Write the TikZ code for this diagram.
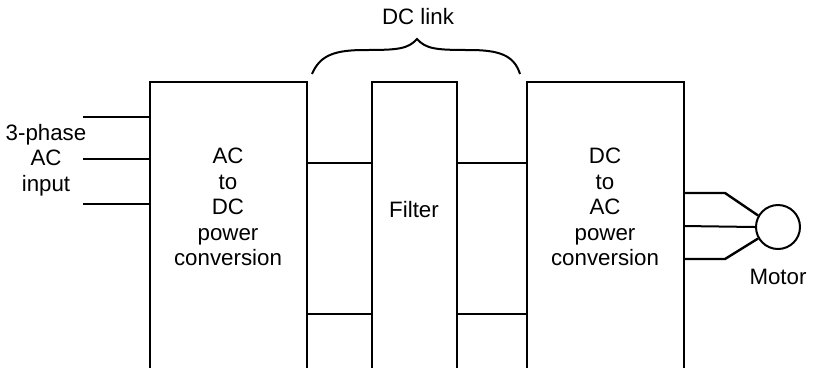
\documentclass[tikz,border=0pt]{standalone}
\usepackage{fontspec}
\setmainfont{Liberation Sans}
\begin{document}
\begin{tikzpicture}[x=1pt,y=-1pt,
  boxline/.style={line width=2.6pt, line join=miter},
  wire/.style={line width=2pt},
  lbl/.style={font=\fontsize{22.3}{25.5}\selectfont, align=center, inner sep=0pt}]
\useasboundingbox (0,0) rectangle (813,368);
% blocks (open at the bottom, cut by the picture edge)
\draw[boxline] (150,368) -- (150,82) -- (307,82) -- (307,368);
\draw[boxline] (372,368) -- (372,82) -- (457,82) -- (457,368);
\draw[boxline] (527,368) -- (527,82) -- (684,82) -- (684,368);
% DC link connections
\draw[boxline] (307,163) -- (372,163);
\draw[boxline] (457,163) -- (527,163);
\draw[boxline] (307,314) -- (372,314);
\draw[boxline] (457,314) -- (527,314);
% input lines
\coordinate (i1) at (83,117);
\coordinate (i2) at (83,159);
\coordinate (i3) at (83,204);
\draw[wire] (i1) -- (150,117);
\draw[wire] (i2) -- (150,159);
\draw[wire] (i3) -- (150,204);
% labels
\node[lbl] (inp) at (46,160) {3-phase\\AC\\input};
\node[lbl] (acdc) at (228,207) {AC\\to\\DC\\power\\conversion};
\node[lbl] (filt) at (414,210) {Filter};
\node[lbl] (dcac) at (605,207) {DC\\to\\AC\\power\\conversion};
\node[lbl] (dcl) at (418,17) {DC link};
% motor
\node[draw, line width=2pt, circle, minimum size=44pt, inner sep=0pt] (mot) at (778,227) {};
\node[lbl] (motl) at (778,277) {Motor};
\draw[wire, line width=2.4pt] (684,193) -- (725,193) -- (mot.150);
\draw[wire] (684,226) -- (mot.west);
\draw[wire, line width=2.4pt] (684,259) -- (725,259) -- (mot.210);
% brace
\draw[line width=2pt] (312,74) .. controls (320,55) and (335,50) .. (365,50)
  .. controls (398,50) and (408,49) .. (417,39)
  .. controls (426,49) and (436,50) .. (469,50)
  .. controls (499,50) and (514,55) .. (520,74);
\end{tikzpicture}
\end{document}
